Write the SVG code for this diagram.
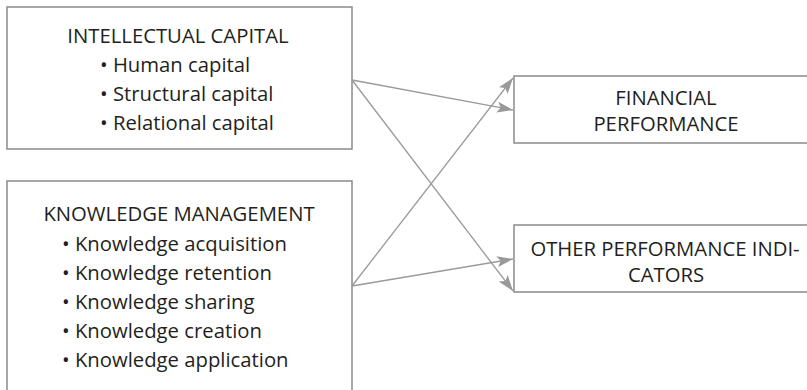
<svg xmlns="http://www.w3.org/2000/svg" width="807" height="390" viewBox="0 0 807 390">
  <style>
    .box { fill: #ffffff; stroke: #8a8a8a; stroke-width: 1.5; }
    .t { font-family: "Open Sans", "Liberation Sans", sans-serif; font-size: 20.3px; fill: #231f20; }
    .c { text-anchor: middle; }
    .conn { stroke: #999999; stroke-width: 1.3; fill: none; marker-end: url(#arrow); }
  </style>
  <defs>
    <marker id="arrow" markerUnits="userSpaceOnUse" viewBox="-16 -6 17 12" refX="0" refY="0" markerWidth="17" markerHeight="12" orient="auto">
      <path d="M0,0 L-16,-5.5 L-12.5,0 L-16,5.5 Z" fill="#999999"/>
    </marker>
  </defs>

  <rect width="807" height="390" fill="#ffffff"/>

  <g id="intellectual-capital">
    <rect class="box" x="7" y="7" width="345" height="142"/>
    <text class="t c" x="178" y="43">INTELLECTUAL CAPITAL</text>
    <text class="t" x="100" y="72">• Human capital</text>
    <text class="t" x="100" y="101">• Structural capital</text>
    <text class="t" x="100" y="130">• Relational capital</text>
  </g>

  <g id="knowledge-management">
    <rect class="box" x="7" y="181" width="345" height="220"/>
    <text class="t c" x="179" y="221">KNOWLEDGE MANAGEMENT</text>
    <text class="t" x="62" y="251">• Knowledge acquisition</text>
    <text class="t" x="62" y="280">• Knowledge retention</text>
    <text class="t" x="62" y="309">• Knowledge sharing</text>
    <text class="t" x="62" y="338">• Knowledge creation</text>
    <text class="t" x="62" y="367">• Knowledge application</text>
  </g>

  <g id="financial-performance">
    <rect class="box" x="514" y="76" width="310" height="67"/>
    <text class="t c" x="666" y="105">FINANCIAL</text>
    <text class="t c" x="666" y="131">PERFORMANCE</text>
  </g>

  <g id="other-performance">
    <rect class="box" x="514" y="225" width="310" height="67"/>
    <text class="t c" x="665" y="256">OTHER PERFORMANCE INDI-</text>
    <text class="t c" x="666" y="282">CATORS</text>
  </g>

  <g id="connectors">
    <line class="conn" x1="352" y1="80" x2="513" y2="110"/>
    <line class="conn" x1="352" y1="80" x2="513" y2="291"/>
    <line class="conn" x1="352" y1="286" x2="513" y2="78"/>
    <line class="conn" x1="352" y1="286" x2="513" y2="259"/>
  </g>
</svg>
